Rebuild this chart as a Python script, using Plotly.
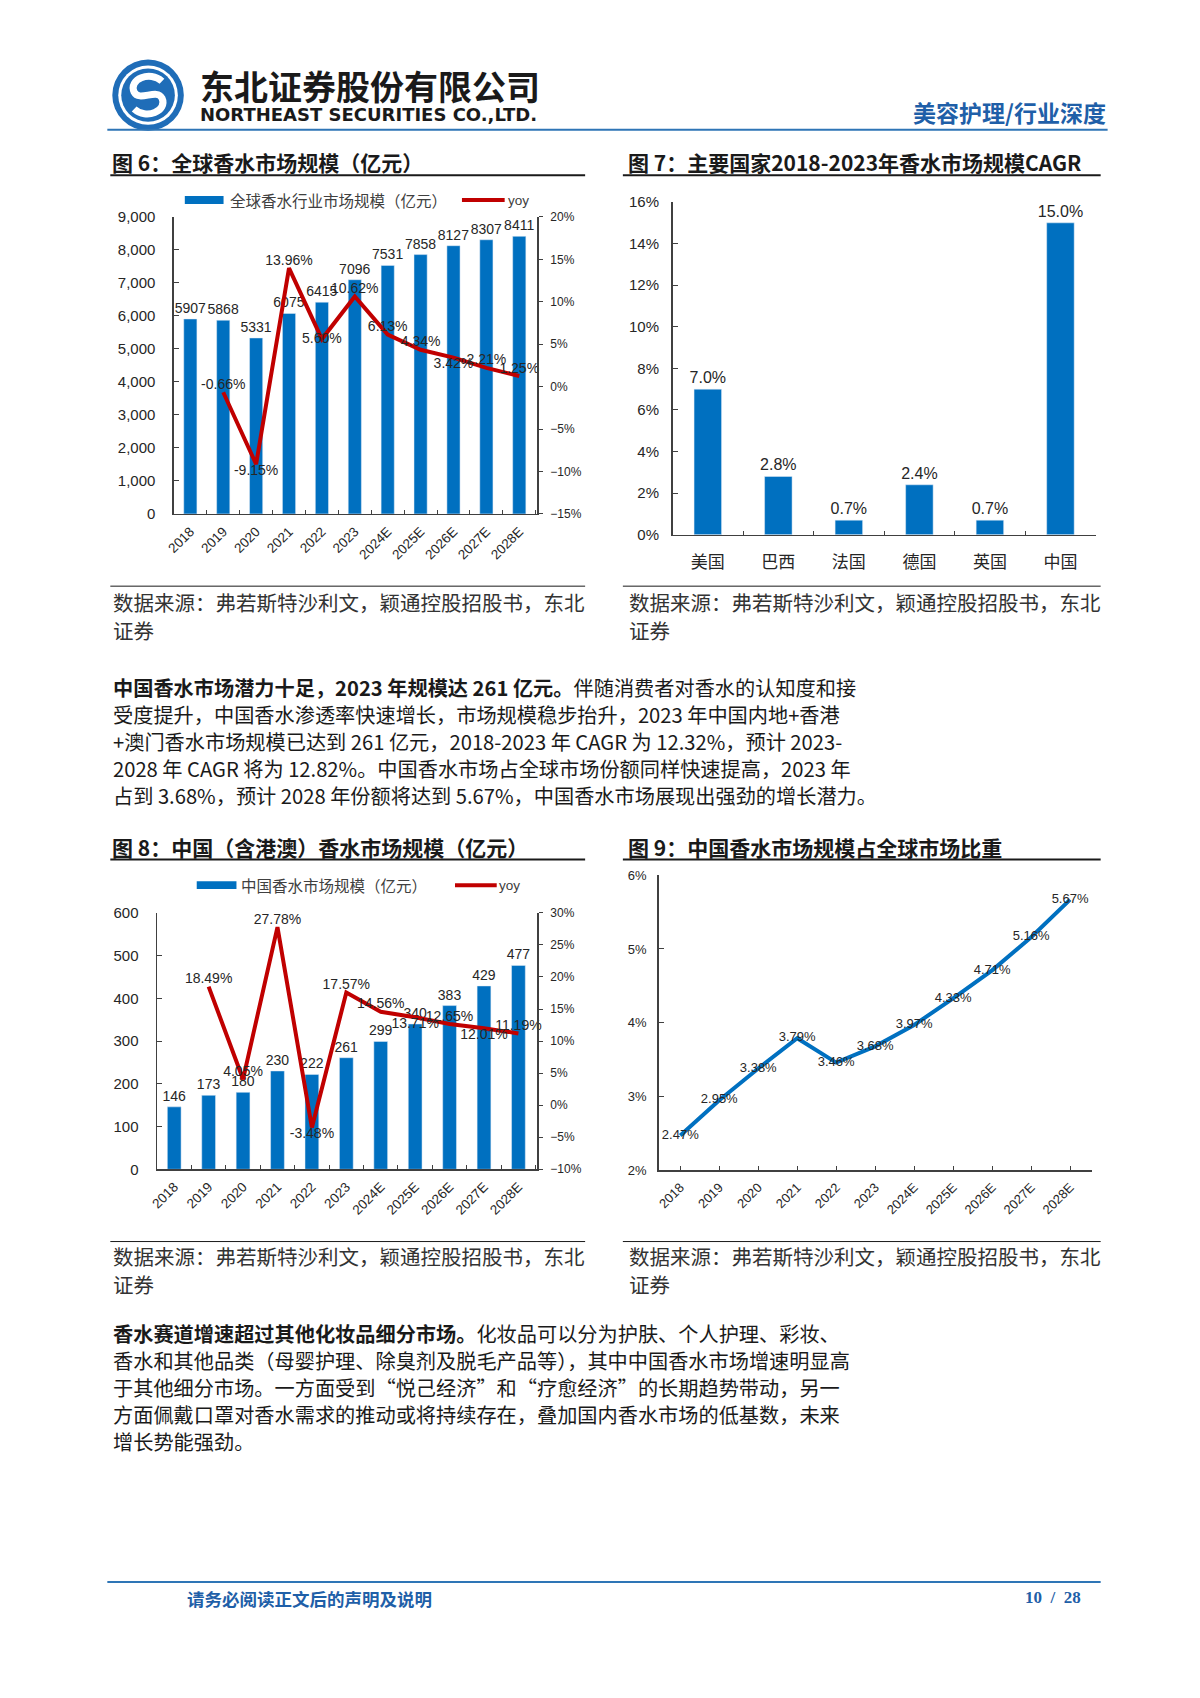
import plotly.graph_objects as go

W, H = 1200, 1698


def X(px):
    return px / W


def Y(py):
    return 1 - py / H


# ---------------- data ----------------
years = ["2018", "2019", "2020", "2021", "2022", "2023", "2024E", "2025E", "2026E", "2027E", "2028E"]
global_size = [5907, 5868, 5331, 6075, 6415, 7096, 7531, 7858, 8127, 8307, 8411]
global_yoy = [-0.66, -9.15, 13.96, 5.60, 10.62, 6.13, 4.34, 3.42, 2.21, 1.25]  # 2019 onward
countries = ["美国", "巴西", "法国", "德国", "英国", "中国"]
cagr = [7.0, 2.8, 0.7, 2.4, 0.7, 15.0]
china_size = [146, 173, 180, 230, 222, 261, 299, 340, 383, 429, 477]
china_yoy = [18.49, 4.05, 27.78, -3.48, 17.57, 14.56, 13.71, 12.65, 12.01, 11.19]  # 2019 onward
china_share = [2.47, 2.95, 3.38, 3.79, 3.46, 3.68, 3.97, 4.33, 4.71, 5.16, 5.67]

# label placement (style)
g_pos = ["top center", "bottom center", "top center", "middle center", "top center",
         "top center", "top center", "bottom center", "top center", "top center"]
c_pos = ["top center", "top center", "top center", "bottom center", "top center",
         "top center", "bottom center", "top center", "bottom center", "top center"]

BLUE = "#0070C0"
RED = "#C00000"
AX = "#404040"
TXT = "#262626"
HDR_BLUE = "#1F5FA8"
NUM = "Liberation Sans, Arial, sans-serif"
CJK = "Noto Sans CJK SC, sans-serif"

fig = go.Figure()

# ---------- Chart 6 ----------
fig.add_trace(go.Bar(
    x=years, y=global_size, xaxis="x", yaxis="y", marker_color=BLUE, width=0.4,
    text=[str(v) for v in global_size], textposition="outside", constraintext="none",
    textfont=dict(family=NUM, size=14, color=TXT), cliponaxis=False, showlegend=False))
fig.add_trace(go.Scatter(
    x=years[1:], y=global_yoy, xaxis="x", yaxis="y2", mode="lines+text",
    line=dict(color=RED, width=4), text=[f"{v:.2f}%" for v in global_yoy],
    textposition=g_pos, textfont=dict(family=NUM, size=14, color=TXT),
    cliponaxis=False, showlegend=False))

# ---------- Chart 7 ----------
fig.add_trace(go.Bar(
    x=countries, y=cagr, xaxis="x2", yaxis="y3", marker_color=BLUE, width=0.39,
    text=[f"{v:.1f}%" for v in cagr], textposition="outside", constraintext="none",
    textfont=dict(family=NUM, size=16, color=TXT), cliponaxis=False, showlegend=False))

# ---------- Chart 8 ----------
fig.add_trace(go.Bar(
    x=years, y=china_size, xaxis="x3", yaxis="y4", marker_color=BLUE, width=0.4,
    text=[str(v) for v in china_size], textposition="outside", constraintext="none",
    textfont=dict(family=NUM, size=14, color=TXT), cliponaxis=False, showlegend=False))
fig.add_trace(go.Scatter(
    x=years[1:], y=china_yoy, xaxis="x3", yaxis="y5", mode="lines+text",
    line=dict(color=RED, width=4), text=[f"{v:.2f}%" for v in china_yoy],
    textposition=c_pos, textfont=dict(family=NUM, size=14, color=TXT),
    cliponaxis=False, showlegend=False))

# ---------- Chart 9 ----------
fig.add_trace(go.Scatter(
    x=years, y=china_share, xaxis="x4", yaxis="y6", mode="lines+text",
    line=dict(color=BLUE, width=4), text=[f"{v:.2f}%" for v in china_share],
    textposition="middle center", textfont=dict(family=NUM, size=13, color=TXT),
    cliponaxis=False, showlegend=False))


def xax(l, r, anchor, **kw):
    d = dict(domain=[X(l), X(r)], anchor=anchor, type="category", showline=True,
             linecolor=AX, linewidth=1.5, showgrid=False, zeroline=False,
             ticks="inside", ticklen=4, tickcolor=AX, fixedrange=True)
    d.update(kw)
    return d


def yax(t, b, anchor, **kw):
    d = dict(domain=[Y(b), Y(t)], anchor=anchor, showline=True, linecolor=AX,
             linewidth=1.5, showgrid=False, zeroline=False, ticks="inside",
             ticklen=5, tickcolor=AX, fixedrange=True)
    d.update(kw)
    return d


fig.update_layout(
    width=W, height=H, margin=dict(l=0, r=0, t=0, b=0),
    paper_bgcolor="white", plot_bgcolor="white",
    font=dict(family=NUM, color=TXT),
    xaxis=xax(167, 533, "y", tickson="boundaries", tickangle=-45, ticklabelstandoff=3,
              tickfont=dict(family=NUM, size=13.5, color=TXT)),
    yaxis=yax(210, 510, "x", range=[0, 9000], dtick=1000, tickformat=",",
              ticklabelstandoff=14, tickfont=dict(family=NUM, size=15, color=TXT)),
    yaxis2=yax(210, 510, "x", overlaying="y", side="right", range=[-15, 20], dtick=5,
               ticksuffix="%", ticks="outside", ticklen=4, ticklabelstandoff=5,
               tickfont=dict(family=NUM, size=12, color=TXT)),
    xaxis2=xax(669, 1095, "y3", tickson="boundaries", ticklabelstandoff=11,
               tickfont=dict(family=CJK, size=17, color=TXT)),
    yaxis3=yax(195, 531, "x2", range=[0, 16], dtick=2, ticksuffix="%",
               ticklabelstandoff=9, tickfont=dict(family=NUM, size=15, color=TXT)),
    xaxis3=xax(150, 533, "y4", tickson="boundaries", tickangle=-45, ticklabelstandoff=3,
               tickfont=dict(family=NUM, size=13.5, color=TXT)),
    yaxis4=yax(913, 1172, "x3", range=[0, 600], dtick=100,
               ticklabelstandoff=14, tickfont=dict(family=NUM, size=15, color=TXT)),
    yaxis5=yax(913, 1172, "x3", overlaying="y4", side="right", range=[-10, 30], dtick=5,
               ticksuffix="%", ticks="outside", ticklen=4, ticklabelstandoff=5,
               tickfont=dict(family=NUM, size=12, color=TXT)),
    xaxis4=xax(655, 1091, "y6", tickangle=-45, ticklabelstandoff=3,
               tickfont=dict(family=NUM, size=13, color=TXT)),
    yaxis6=yax(875, 1173, "x4", range=[2, 6], dtick=1, ticksuffix="%",
               ticklabelstandoff=8, tickfont=dict(family=NUM, size=13, color=TXT)),
)

shapes = []
ann = []


def hline(x0, x1, y, color="#1a1a1a", width=1.5):
    shapes.append(dict(type="line", xref="paper", yref="paper", x0=X(x0), x1=X(x1),
                       y0=Y(y), y1=Y(y), line=dict(color=color, width=width)))


def text(x, y, s, size, color="#1a1a1a", family=CJK, xanchor="left"):
    ann.append(dict(x=X(x), y=Y(y), xref="paper", yref="paper", text=s, showarrow=False,
                    xanchor=xanchor, yanchor="middle", align="left",
                    font=dict(family=family, size=size, color=color)))


def circle(cx, cy, r, color):
    shapes.append(dict(type="circle", xref="paper", yref="paper", x0=X(cx - r), x1=X(cx + r),
                       y0=Y(cy + r), y1=Y(cy - r), fillcolor=color, line=dict(width=0)))


# ---------- header ----------
cx, cy = 141, 87
circle(cx, cy, 36, "#1F6DB8")
circle(cx, cy, 30, "white")
circle(cx, cy, 27, "#1F6DB8")


def P(dx, dy):
    return f"{X(cx + dx):.5f},{Y(cy + dy):.5f}"


spath = ("M " + P(14, -14) + " C " + P(2, -25) + " " + P(-20, -16) + " " + P(-14, -3)
         + " C " + P(-9, 7) + " " + P(9, -7) + " " + P(14, 3)
         + " C " + P(20, 16) + " " + P(-2, 25) + " " + P(-14, 14))
shapes.append(dict(type="path", xref="paper", yref="paper", path=spath,
                   line=dict(color="white", width=7)))

text(191, 77, "<b>东北证券股份有限公司</b>", 34, "#1a1a1a")
text(191, 107, "<b>NORTHEAST SECURITIES CO.,LTD.</b>", 18, "#1a1a1a",
     "DejaVu Sans, sans-serif")
text(1107, 104, "<b>美容护理/行业深度</b>", 23, HDR_BLUE, CJK, "right")
hline(100, 1107, 122, "#2E75B6", 2)

# ---------- figure titles ----------
text(103, 155, "<b>图 6：全球香水市场规模（亿元）</b>", 21)
text(622, 155, "<b>图 7：主要国家2018-2023年香水市场规模CAGR</b>", 21)
hline(103, 581, 168, "#1a1a1a", 2)
hline(619, 1100, 168, "#1a1a1a", 2)

# legend chart 6
shapes.append(dict(type="rect", xref="paper", yref="paper", x0=X(178), x1=X(217),
                   y0=Y(197), y1=Y(189), fillcolor=BLUE, line=dict(width=0)))
text(221, 193, "全球香水行业市场规模（亿元）", 15.5, "#404040")
hline(457, 500, 193, RED, 4)
text(501, 193, "yoy", 13.5, "#404040", NUM)

# sources
src1 = "数据来源：弗若斯特沙利文，颖通控股招股书，东北"
src2 = "证券"
for (xl, xr) in [(103, 581), (619, 1100)]:
    hline(xl, xr, 583, "#1a1a1a", 1)
    hline(xl, xr, 1245, "#1a1a1a", 1)
for xs in [104, 623]:
    text(xs, 599, src1, 20.5, "#333333")
    text(xs, 627, src2, 20.5, "#333333")
    text(xs, 1260, src1, 20.5, "#333333")
    text(xs, 1288, src2, 20.5, "#333333")

# paragraph 1
p1 = [
    "<b>中国香水市场潜力十足，2023 年规模达 261 亿元。</b>伴随消费者对香水的认知度和接",
    "受度提升，中国香水渗透率快速增长，市场规模稳步抬升，2023 年中国内地+香港",
    "+澳门香水市场规模已达到 261 亿元，2018-2023 年 CAGR 为 12.32%，预计 2023-",
    "2028 年 CAGR 将为 12.82%。中国香水市场占全球市场份额同样快速提高，2023 年",
    "占到 3.68%，预计 2028 年份额将达到 5.67%，中国香水市场展现出强劲的增长潜力。",
]
for i, s in enumerate(p1):
    text(104, 685 + i * 27.3, s, 20.2, "#1a1a1a")

# figure 8/9 titles
text(103, 846, "<b>图 8：中国（含港澳）香水市场规模（亿元）</b>", 21)
text(622, 846, "<b>图 9：中国香水市场规模占全球市场比重</b>", 21)
hline(103, 581, 859, "#1a1a1a", 2)
hline(619, 1100, 859, "#1a1a1a", 2)

# legend chart 8
shapes.append(dict(type="rect", xref="paper", yref="paper", x0=X(190), x1=X(230),
                   y0=Y(889), y1=Y(881), fillcolor=BLUE, line=dict(width=0)))
text(233, 885, "中国香水市场规模（亿元）", 15.5, "#404040")
hline(450, 492, 885, RED, 4)
text(492, 885, "yoy", 13.5, "#404040", NUM)

# paragraph 2
p2 = [
    "<b>香水赛道增速超过其他化妆品细分市场。</b>化妆品可以分为护肤、个人护理、彩妆、",
    "香水和其他品类（母婴护理、除臭剂及脱毛产品等），其中中国香水市场增速明显高",
    "于其他细分市场。一方面受到“悦己经济”和“疗愈经济”的长期趋势带动，另一",
    "方面佩戴口罩对香水需求的推动或将持续存在，叠加国内香水市场的低基数，未来",
    "增长势能强劲。",
]
for i, s in enumerate(p2):
    text(104, 1338 + i * 27.3, s, 20.2, "#1a1a1a")

# footer
hline(100, 1100, 1589, "#2E75B6", 2)
text(178, 1606, "<b>请务必阅读正文后的声明及说明</b>", 17.5, HDR_BLUE)
text(1082, 1605, "<b>10  /  28</b>", 17, HDR_BLUE, "Liberation Serif, serif", "right")

fig.update_layout(shapes=shapes, annotations=ann)
fig.write_html(
    "out.html",
    config={"displayModeBar": False, "staticPlot": True},
    post_script=("document.body.style.margin='0px';document.body.style.padding='0px';"
                 "document.body.style.overflow='hidden';"
                 "document.documentElement.style.overflow='hidden';"))
